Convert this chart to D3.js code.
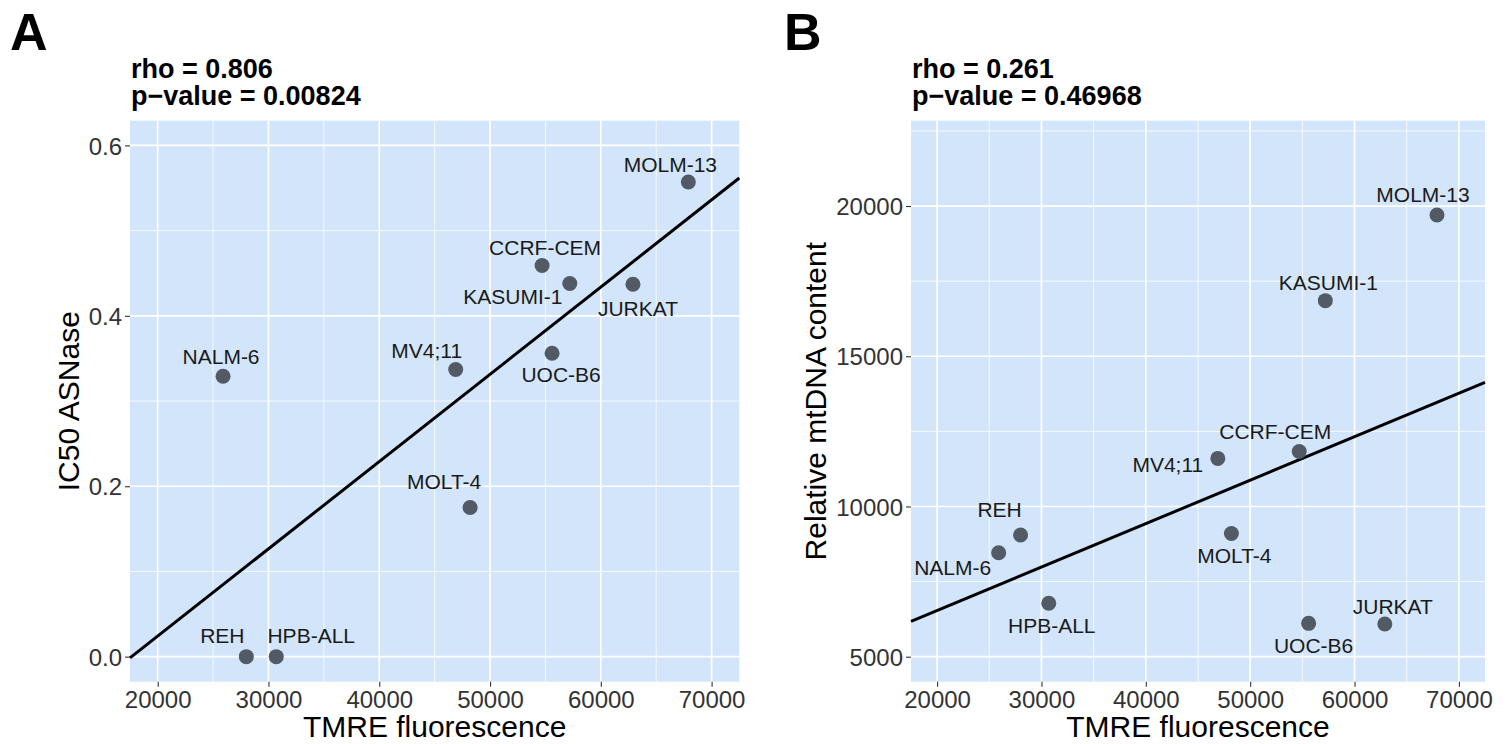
<!DOCTYPE html>
<html lang="en">
<head>
<meta charset="utf-8">
<title>TMRE correlations</title>
<script src="https://d3js.org/d3.v7.min.js"></script>
<style type="text/css">
  body { margin: 0; background: #ffffff; }
  svg { font-family: "Liberation Sans", Arial, Helvetica, sans-serif; }
  .tick text { font-size: 24px; fill: #333333; }
  .tick line { stroke: #333333; stroke-width: 1.1; }
  .ptlabel { font-size: 21px; fill: #1a1a1a; text-anchor: middle; }
  .axtitle { font-size: 30px; fill: #000000; text-anchor: middle; }
  .ptitle { font-size: 27px; font-weight: bold; fill: #000000; }
  .letter { font-size: 52px; font-weight: bold; fill: #000000; }
</style>
</head>
<body>
<div id="fig"></div>
<script type="text/javascript">

// data
var cellLines = ["NALM-6", "REH", "HPB-ALL", "MV4;11", "MOLT-4", "CCRF-CEM", "UOC-B6", "KASUMI-1", "JURKAT", "MOLM-13"];
var tmre      = [25900, 28000, 30700, 46900, 48200, 54700, 55600, 57200, 62900, 67900];
var ic50      = [0.329, 0.0, 0.0, 0.337, 0.175, 0.459, 0.356, 0.438, 0.437, 0.557];
var mtdna     = [8460, 9050, 6780, 11600, 9100, 11830, 6110, 16850, 6090, 19700];

var xTicks  = [20000, 30000, 40000, 50000, 60000, 70000];
var xMinor  = [25000, 35000, 45000, 55000, 65000];
var yTicksA = [0.0, 0.2, 0.4, 0.6];
var yMinorA = [0.1, 0.3, 0.5];
var yTicksB = [5000, 10000, 15000, 20000];
var yMinorB = [7500, 12500, 17500, 22500];

var titleA = ["rho = 0.806", "p\u2212value = 0.00824"];
var titleB = ["rho = 0.261", "p\u2212value = 0.46968"];

// layout (pixel offsets of the repelled labels from their points)
var nudgeA = {
  "NALM-6": [-2, -20], "REH": [-24, -21], "HPB-ALL": [35, -21], "MV4;11": [-29, -19],
  "MOLT-4": [-26, -26], "CCRF-CEM": [3, -18], "UOC-B6": [9, 21], "KASUMI-1": [-57, 13],
  "JURKAT": [5, 24], "MOLM-13": [-18, -18]
};
var nudgeB = {
  "NALM-6": [-46, 15], "REH": [-21, -26], "HPB-ALL": [3, 22], "MV4;11": [-50, 6],
  "MOLT-4": [3, 22], "CCRF-CEM": [-24, -20], "UOC-B6": [5, 22], "KASUMI-1": [3, -18],
  "JURKAT": [8, -18], "MOLM-13": [-14, -21]
};

var w = 1510, h = 744;
var plotTop = 120.7, plotBottom = 681.7;

var svg = d3.select("#fig").append("svg")
  .attr("width", w)
  .attr("height", h);

function drawPanel(p) {
  var x = d3.scaleLinear().domain([17500, 72500]).range([p.left, p.right]);
  var y = d3.scaleLinear().domain(p.yDomain).range([plotBottom, plotTop]);
  var g = svg.append("g");

  // panel background
  g.append("rect")
    .attr("x", p.left).attr("y", plotTop)
    .attr("width", p.right - p.left).attr("height", plotBottom - plotTop)
    .style("fill", "#d2e5fa");

  // minor grid
  g.selectAll(".vminor").data(xMinor).enter().append("line")
    .attr("x1", function(d) { return x(d); }).attr("x2", function(d) { return x(d); })
    .attr("y1", plotTop).attr("y2", plotBottom)
    .style("stroke", "#ffffff").style("stroke-width", 0.8);
  g.selectAll(".hminor").data(p.yMinor).enter().append("line")
    .attr("y1", function(d) { return y(d); }).attr("y2", function(d) { return y(d); })
    .attr("x1", p.left).attr("x2", p.right)
    .style("stroke", "#ffffff").style("stroke-width", 0.8);

  // major grid
  g.selectAll(".vmajor").data(xTicks).enter().append("line")
    .attr("x1", function(d) { return x(d); }).attr("x2", function(d) { return x(d); })
    .attr("y1", plotTop).attr("y2", plotBottom)
    .style("stroke", "#ffffff").style("stroke-width", 1.7);
  g.selectAll(".hmajor").data(p.yTicks).enter().append("line")
    .attr("y1", function(d) { return y(d); }).attr("y2", function(d) { return y(d); })
    .attr("x1", p.left).attr("x2", p.right)
    .style("stroke", "#ffffff").style("stroke-width", 1.7);

  // least squares line over the full x range
  var mx = d3.mean(tmre), my = d3.mean(p.values);
  var sxy = d3.sum(tmre, function(d, i) { return (d - mx) * (p.values[i] - my); });
  var sxx = d3.sum(tmre, function(d) { return (d - mx) * (d - mx); });
  var slope = sxy / sxx, icpt = my - slope * mx;
  var fit = x.domain().map(function(d) { return [d, icpt + slope * d]; });

  g.append("path")
    .datum(fit)
    .attr("d", d3.line().x(function(d) { return x(d[0]); }).y(function(d) { return y(d[1]); }))
    .style("fill", "none").style("stroke", "#000000").style("stroke-width", 3);

  // points
  g.selectAll("circle").data(cellLines).enter().append("circle")
    .attr("cx", function(d, i) { return x(tmre[i]); })
    .attr("cy", function(d, i) { return y(p.values[i]); })
    .attr("r", 7.5)
    .style("fill", "#525a66");

  // point labels
  g.selectAll(".ptlabel").data(cellLines).enter().append("text")
    .attr("class", "ptlabel")
    .attr("x", function(d, i) { return x(tmre[i]) + p.nudge[d][0]; })
    .attr("y", function(d, i) { return y(p.values[i]) + p.nudge[d][1]; })
    .attr("dy", "0.36em")
    .text(function(d) { return d; });

  // axes
  var xAxis = g.append("g")
    .attr("transform", "translate(0," + plotBottom + ")")
    .call(d3.axisBottom(x).tickValues(xTicks).tickSize(5).tickPadding(4).tickFormat(d3.format("d")));
  var yAxis = g.append("g")
    .attr("transform", "translate(" + p.left + ",0)")
    .call(d3.axisLeft(y).tickValues(p.yTicks).tickSize(5).tickPadding(3).tickFormat(p.yFormat));
  xAxis.select(".domain").remove();
  yAxis.select(".domain").remove();
  yAxis.selectAll("text").attr("dy", "0.36em");
  xAxis.attr("font-family", null).attr("font-size", null);
  yAxis.attr("font-family", null).attr("font-size", null);

  // axis titles
  g.append("text")
    .attr("class", "axtitle")
    .attr("x", (p.left + p.right) / 2)
    .attr("y", 737)
    .text("TMRE fluorescence");
  g.append("text")
    .attr("class", "axtitle")
    .attr("transform", "translate(" + p.yTitleX + "," + ((plotTop + plotBottom) / 2) + ") rotate(-90)")
    .text(p.yTitle);

  // title and panel letter
  g.append("text").attr("class", "ptitle").attr("x", p.left + 1).attr("y", 78).text(p.title[0]);
  g.append("text").attr("class", "ptitle").attr("x", p.left + 1).attr("y", 105).text(p.title[1]);
  g.append("text").attr("class", "letter").attr("x", p.letterX).attr("y", 50).text(p.letter);
}

drawPanel({
  left: 130, right: 739.3,
  values: ic50,
  yDomain: [-0.0294, 0.629],
  yTicks: yTicksA, yMinor: yMinorA,
  yFormat: d3.format(".1f"),
  yTitle: "IC50 ASNase", yTitleX: 79,
  title: titleA, letter: "A", letterX: 10,
  nudge: nudgeA
});

drawPanel({
  left: 911, right: 1485,
  values: mtdna,
  yDomain: [4168, 22840],
  yTicks: yTicksB, yMinor: yMinorB,
  yFormat: d3.format("d"),
  yTitle: "Relative mtDNA content", yTitleX: 826,
  title: titleB, letter: "B", letterX: 784,
  nudge: nudgeB
});

</script>
</body>
</html>
